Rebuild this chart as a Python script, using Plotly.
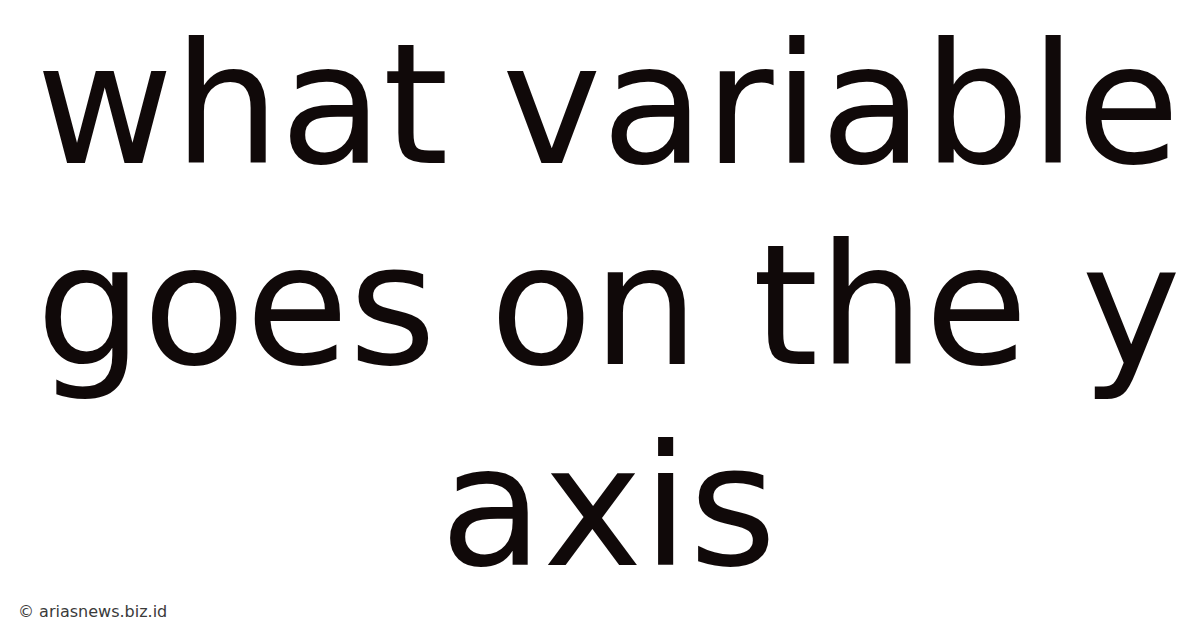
import plotly.graph_objects as go

# Title text lines and their vertical centre (paper units, 0 = bottom)
title_lines = ["what variable", "goes on the y", "axis"]
line_y = [0.845, 0.525, 0.205]
watermark = "© ariasnews.biz.id"

text_color = "#100909"

fig = go.Figure()

annotations = []
for txt, y in zip(title_lines, line_y):
    annotations.append(dict(
        text=txt, x=0.5, y=y, xref="paper", yref="paper",
        xanchor="center", yanchor="middle", showarrow=False,
        font=dict(family="DejaVu Sans", size=168, color=text_color),
    ))

annotations.append(dict(
    text=watermark, x=8 / 1200, y=1 - 603 / 628, xref="paper", yref="paper",
    xanchor="left", yanchor="middle", showarrow=False,
    font=dict(family="DejaVu Sans", size=16, color="#3a3a3a"),
))

fig.update_layout(
    width=1200, height=628,
    margin=dict(l=0, r=0, t=0, b=0),
    paper_bgcolor="white", plot_bgcolor="white",
    xaxis=dict(visible=False, range=[0, 1]),
    yaxis=dict(visible=False, range=[0, 1]),
    annotations=annotations,
    showlegend=False,
)

fig.write_html("out.html")
